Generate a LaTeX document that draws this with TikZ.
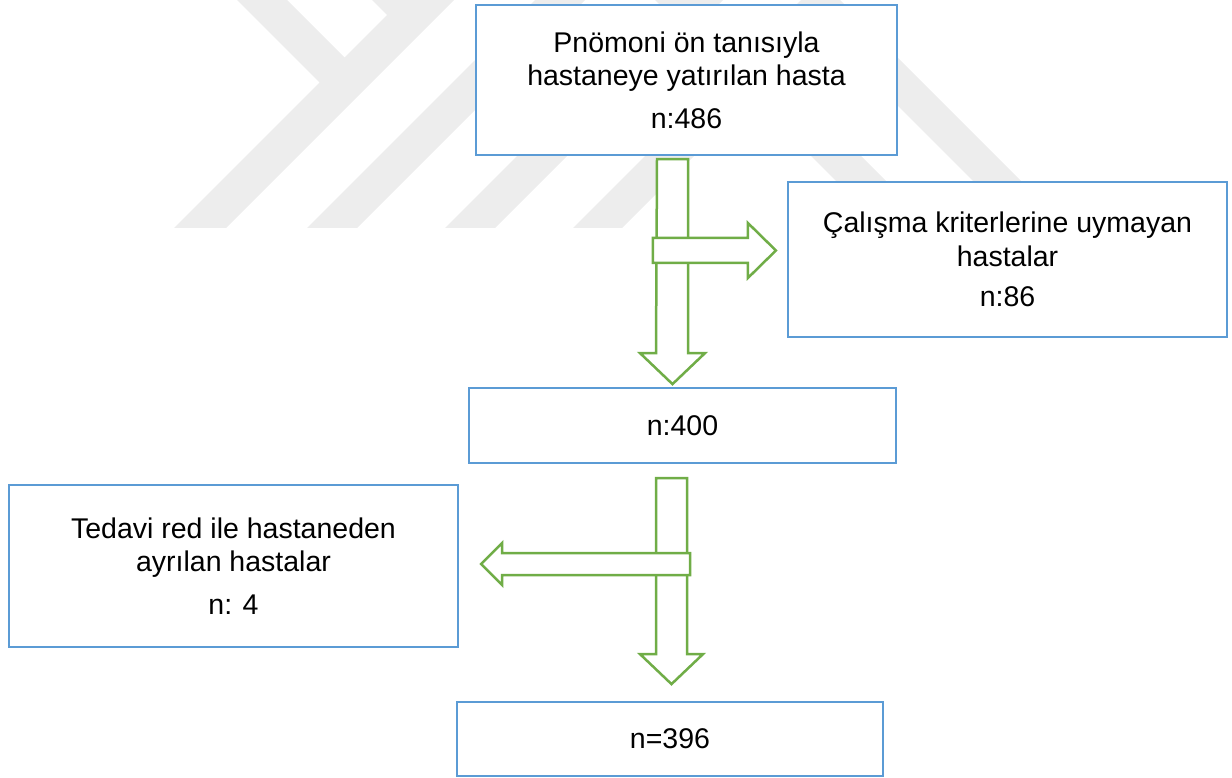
\documentclass[tikz,border=0pt]{standalone}
\usepackage{fontspec}
\setmainfont{Liberation Sans}
\usetikzlibrary{calc}
\definecolor{boxblue}{HTML}{5B9BD5}
\definecolor{arrgreen}{HTML}{70AD47}
\definecolor{wmgray}{HTML}{EDEDED}
\tikzset{
  flowbox/.style={draw=boxblue, line width=2.2pt, fill=white, inner sep=0pt,
    align=center, font=\fontsize{28.5}{33.5}\selectfont},
  blockarrow/.style={draw=arrgreen, line width=2.5pt, fill=white, line join=miter},
  watermark/.style={fill=wmgray}
}
\begin{document}
\begin{tikzpicture}[x=1pt,y=-1pt]
\useasboundingbox (0,0) rectangle (1232,778);
% watermark
\begin{scope}
\clip (0,0) rectangle (1232,778);
\fill[watermark] (237,0) -- (287,0) -- (344.5,57.5) -- (387,15) -- (372,0) -- (454,0) -- (226,228) -- (174,228) -- (319.5,82.5) -- cycle;
\fill[watermark] (307,228) -- (357,228) -- (585,0) -- (535,0) -- cycle;
\fill[watermark] (445,228) -- (495,228) -- (723,0) -- (673,0) -- cycle;
\fill[watermark] (573,228) -- (820.5,-19.5) -- (1068,228) -- (1020,228) -- (821,29) -- (622,228) -- cycle;
\fill[watermark] (655,0) -- (705,0) -- (933,228) -- (883,228) -- cycle;
\end{scope}
% boxes
\node[flowbox, minimum width=421pt, minimum height=150pt] (b1) at (686.5,80)
  {Pnömoni ön tanısıyla\\hastaneye yatırılan hasta\\[9pt]n:486};
\node[flowbox, minimum width=439pt, minimum height=155pt] (b2) at (1007.5,259.5)
  {Çalışma kriterlerine uymayan\\hastalar\\[7pt]n:86};
\node[flowbox, minimum width=427pt, minimum height=75pt] (b3) at (682.5,425.5)
  {n:400};
\node[flowbox, minimum width=449pt, minimum height=162pt] (b4) at (233.5,566)
  {Tedavi red ile hastaneden\\ayrılan hastalar\\[9pt]n: 4};
\node[flowbox, minimum width=426pt, minimum height=74pt] (b5) at (670,739)
  {n=396};
% connector anchor points
\coordinate (a1) at ([xshift=-14pt,yshift=-3pt]b1.south);
\coordinate (a3) at ([xshift=-11pt,yshift=-14pt]b3.south);
\coordinate (a2) at ([xshift=-39pt,yshift=9pt]b2.west);
\coordinate (a4) at ([xshift=231pt,yshift=2pt]b4.east);
% down arrows
\draw[blockarrow] (a1) ++(-15.5,0) -- ++(31,0) -- ++(0,194) -- ++(17,0)
  -- ++(-32.5,31) -- ++(-32.5,-31) -- ++(16,0) -- cycle;
\draw[blockarrow] (a3) ++(-15.5,0) -- ++(31,0) -- ++(0,176) -- ++(16,0)
  -- ++(-31.5,30) -- ++(-31.5,-30) -- ++(16,0) -- cycle;
% side arrows
\draw[blockarrow] (a2) ++(0,12.5) -- ++(-95,0) -- ++(0,-25) -- ++(95,0)
  -- ++(0,-15) -- ++(28,27.5) -- ++(-28,27.5) -- cycle;
\draw[blockarrow] (a4) ++(0,-11) -- ++(0,22) -- ++(-188,0) -- ++(0,10)
  -- ++(-21,-21) -- ++(21,-21) -- ++(0,10) -- cycle;
\end{tikzpicture}
\end{document}
